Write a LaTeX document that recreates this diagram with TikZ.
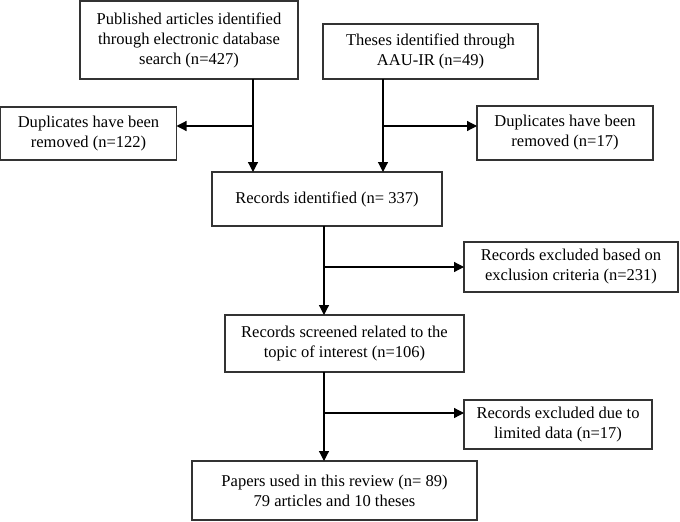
\documentclass[tikz,border=0pt]{standalone}
\usepackage{fontspec}
\setmainfont{Liberation Serif}
\usepackage{tikz}
\usetikzlibrary{arrows.meta,positioning,calc}

\begin{document}
\begin{tikzpicture}[x=0.75pt,y=-0.75pt,every node/.style={outer sep=0pt}]
\tikzstyle{box}=[draw=black!80,line width=0.9pt,align=center,inner sep=2pt,
font=\fontsize{12.4}{15}\selectfont]
\tikzstyle{arr}=[line width=0.9pt,-{Triangle[length=7.5pt,width=7.5pt]}]
\useasboundingbox (0,0) rectangle (680,521);
%
\node (pub) [box,minimum width=163.5pt,minimum height=58.5pt] at (189,40)
{Published articles identified\\through electronic database\\search (n=427)};
\node (thes) [box,minimum width=161.25pt,minimum height=41.25pt] at (430.5,51.5)
{Theses identified through\\AAU-IR (n=49)};
\node (dupL) [box,minimum width=132pt,minimum height=39.75pt] at (88.5,133.5)
{Duplicates have been\\removed (n=122)};
\node (dupR) [box,minimum width=132pt,minimum height=40.5pt] at (565,133)
{Duplicates have been\\removed (n=17)};
\node (rec) [box,minimum width=172.5pt,minimum height=40.5pt] at (327,199)
{Records identified (n= 337)};
\node (exA) [box,minimum width=160.5pt,minimum height=37.5pt] at (571,267)
{Records excluded based on\\exclusion criteria (n=231)};
\node (scr) [box,minimum width=179.25pt,minimum height=42.75pt] at (344.5,343.5)
{Records screened related to the\\topic of interest (n=106)};
\node (exB) [box,minimum width=141pt,minimum height=36.75pt] at (558,424.5)
{Records excluded due to\\limited data (n=17)};
\node (pap) [box,minimum width=213.75pt,minimum height=44.25pt] at (334.5,490.5)
{Papers used in this review (n= 89)\\79 articles and 10 theses};
%
\coordinate (jL) at (253,126);
\coordinate (jR) at (383,126);
\coordinate (jA) at (324,267);
\coordinate (jB) at (324,413);
\draw [arr] (pub.south -| jL) -- (rec.north -| jL);
\draw [arr] (jL) -- (dupL.east |- jL);
\draw [arr] (thes.south -| jR) -- (rec.north -| jR);
\draw [arr] (jR) -- (dupR.west |- jR);
\draw [arr] (rec.south -| jA) -- (scr.north -| jA);
\draw [arr] (jA) -- (exA.west |- jA);
\draw [arr] (scr.south -| jB) -- (pap.north -| jB);
\draw [arr] (jB) -- (exB.west |- jB);
%
\end{tikzpicture}
\end{document}
